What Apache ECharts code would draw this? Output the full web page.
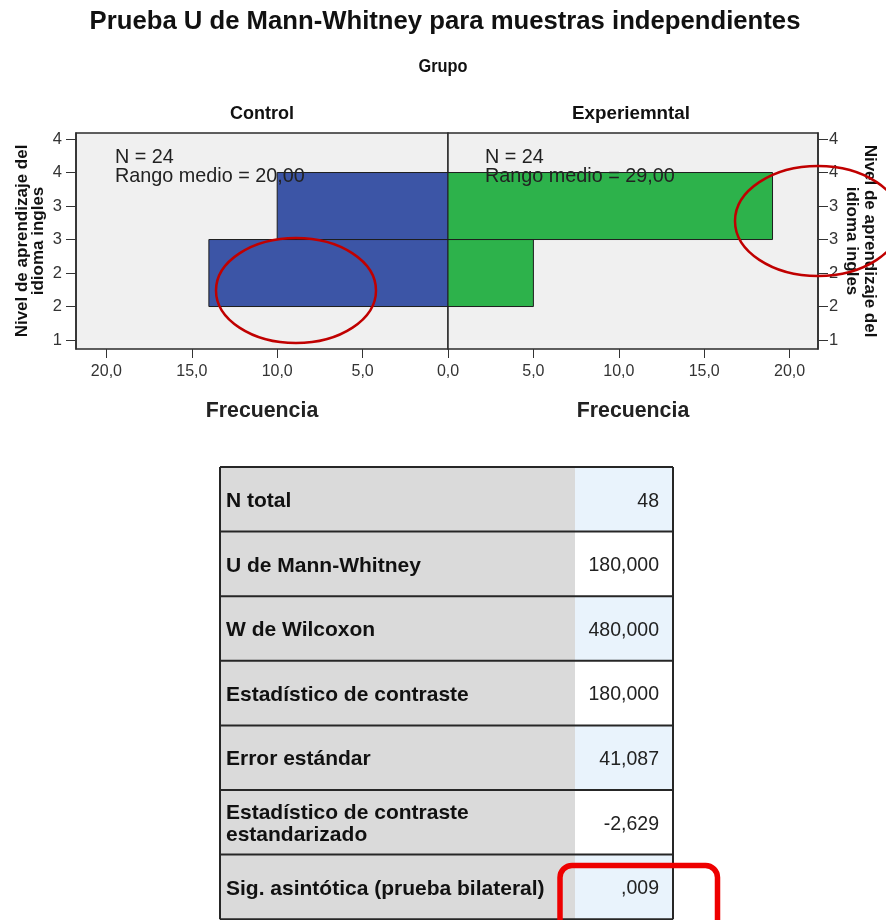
<!DOCTYPE html>
<html>
<head>
<meta charset="utf-8">
<script src="https://cdn.jsdelivr.net/npm/echarts@6/dist/echarts.min.js"></script>
<style>
html,body{margin:0;padding:0;background:#fff;}
#chart{width:886px;height:920px;}
</style>
</head>
<body>
<div id="chart"></div>
<script>
// ---- data ----
const chartTitle = 'Prueba U de Mann-Whitney para muestras independientes';
const groupTitle = 'Grupo';
const groupNames = ['Control', 'Experiemntal'];
const nivelBins = [2, 3];               // histogram bin centres (nivel)
const binWidth = 1;
const controlFreq = [14, 10];
const experimentalFreq = [5, 19];
const groupN = ['24', '24'];
const meanRanks = ['20,00', '29,00'];
const yTickValues = [1, 1.5, 2, 2.5, 3, 3.5, 4];
const yTickLabels = ['1', '2', '2', '3', '3', '4', '4'];
const xTickValues = [0, 5, 10, 15, 20];
const xAxisName = 'Frecuencia';
const yAxisName = 'Nivel de aprendizaje del\nidioma ingles';
const statLabels = ['N total', 'U de Mann-Whitney', 'W de Wilcoxon', 'Estadístico de contraste',
  'Error estándar', 'Estadístico de contraste\nestandarizado', 'Sig. asintótica (prueba bilateral)'];
const statValues = ['48', '180,000', '480,000', '180,000', '41,087', '-2,629', ',009'];

// ---- layout / style ----
const FONT = '"Liberation Sans", Arial, sans-serif';
const plotTop = 133, plotH = 216, midX = 448, leftX = 76, rightX = 818;
const pxPerUnit = 17.08;
const colors = ['#3c55a6', '#2db24b'];

function fmtX(v) { return v.toFixed(1).replace('.', ','); }
function fmtY(v) {
  const i = yTickValues.findIndex(t => Math.abs(t - v) < 1e-6);
  return i >= 0 ? yTickLabels[i] : '';
}

function xAxisCfg(idx, max, labelVals) {
  return {
    gridIndex: idx, type: 'value', inverse: idx === 0, min: 0, max: max,
    axisLine: { show: false, onZero: false }, splitLine: { show: false },
    axisTick: { show: true, customValues: xTickValues, length: 9, lineStyle: { color: '#333', width: 1 } },
    axisLabel: { customValues: labelVals, formatter: fmtX, margin: 15, fontSize: 16, color: '#333', fontFamily: FONT },
    name: xAxisName, nameLocation: 'middle', nameGap: 52,
    nameTextStyle: { fontWeight: 'bold', fontSize: 21.3, color: '#222', fontFamily: FONT }
  };
}
function yAxisCfg(idx, pos, margin) {
  return {
    gridIndex: idx, type: 'value', position: pos, min: 0.866, max: 4.09,
    axisLine: { show: true, onZero: false, lineStyle: { color: '#2b2b2b', width: 1.5 } }, splitLine: { show: false },
    axisTick: { show: true, customValues: yTickValues, length: 10, lineStyle: { color: '#333', width: 1 } },
    axisLabel: { customValues: yTickValues, formatter: fmtY, margin: margin, fontSize: 16.5, color: '#333', fontFamily: FONT }
  };
}
function histSeries(idx, freqs, color) {
  return {
    type: 'custom', coordinateSystem: 'cartesian2d', xAxisIndex: idx, yAxisIndex: idx,
    data: nivelBins.map((n, i) => [n, freqs[i]]),
    encode: { x: 1, y: 0 },
    renderItem: function (params, api) {
      const y = api.value(0), f = api.value(1);
      const a = api.coord([0, y - binWidth / 2]);
      const b = api.coord([f, y + binWidth / 2]);
      return {
        type: 'rect',
        shape: { x: Math.min(a[0], b[0]), y: Math.min(a[1], b[1]), width: Math.abs(b[0] - a[0]), height: Math.abs(b[1] - a[1]) },
        style: { fill: color, stroke: '#1e1e1e', lineWidth: 1 }
      };
    }
  };
}

// table graphics
const tblLeft = 220, tblRight = 673, tblTop = 467, rowH = 64.6, valColX = 575;
const tableEls = [];
statLabels.forEach((lab, i) => {
  const y = tblTop + i * rowH;
  tableEls.push({ type: 'rect', shape: { x: tblLeft, y: y, width: valColX - tblLeft, height: rowH }, style: { fill: '#dadada' } });
  tableEls.push({ type: 'rect', shape: { x: valColX, y: y, width: tblRight - valColX, height: rowH }, style: { fill: i % 2 === 0 ? '#e9f3fc' : '#ffffff' } });
  tableEls.push({ type: 'text', x: 226, y: y + rowH / 2 + 2, style: { text: lab, font: 'bold 21px ' + FONT, fill: '#111', textAlign: 'left', textVerticalAlign: 'middle', lineHeight: 22 } });
  tableEls.push({ type: 'text', x: 659, y: y + rowH / 2 + 2, style: { text: statValues[i], font: '19.5px ' + FONT, fill: '#222', textAlign: 'right', textVerticalAlign: 'middle' } });
});
for (let i = 0; i <= statLabels.length; i++) {
  const y = tblTop + i * rowH;
  tableEls.push({ type: 'line', shape: { x1: tblLeft, y1: y, x2: tblRight, y2: y }, style: { stroke: '#262626', lineWidth: 2 } });
}
tableEls.push({ type: 'line', shape: { x1: tblLeft, y1: tblTop, x2: tblLeft, y2: tblTop + 7 * rowH }, style: { stroke: '#262626', lineWidth: 2 } });
tableEls.push({ type: 'line', shape: { x1: tblRight, y1: tblTop, x2: tblRight, y2: tblTop + 7 * rowH }, style: { stroke: '#262626', lineWidth: 2 } });

const option = {
  backgroundColor: '#ffffff',
  animation: false,
  grid: [
    { left: leftX, top: plotTop, width: midX - leftX, height: plotH, show: true, backgroundColor: '#f0f0f0', borderColor: '#2b2b2b', borderWidth: 1.5 },
    { left: midX, top: plotTop, width: rightX - midX, height: plotH, show: true, backgroundColor: '#f0f0f0', borderColor: '#2b2b2b', borderWidth: 1.5 }
  ],
  xAxis: [
    xAxisCfg(0, (midX - leftX) / pxPerUnit, xTickValues),
    xAxisCfg(1, (rightX - midX) / pxPerUnit, xTickValues.slice(1))
  ],
  yAxis: [yAxisCfg(0, 'left', 14), yAxisCfg(1, 'right', 11)],
  series: [
    histSeries(0, controlFreq, colors[0]),
    histSeries(1, experimentalFreq, colors[1])
  ],
  graphic: [
    { type: 'text', x: 445, y: 22, style: { text: chartTitle, font: 'bold 25.7px ' + FONT, fill: '#111', textAlign: 'center', textVerticalAlign: 'middle' } },
    { type: 'text', x: 443, y: 67, scaleX: 0.86, style: { text: groupTitle, font: 'bold 19px ' + FONT, fill: '#111', textAlign: 'center', textVerticalAlign: 'middle' } },
    { type: 'text', x: (leftX + midX) / 2, y: 114, style: { text: groupNames[0], font: 'bold 18px ' + FONT, fill: '#111', textAlign: 'center', textVerticalAlign: 'middle' } },
    { type: 'text', x: (midX + rightX) / 2 - 2, y: 114, style: { text: groupNames[1], font: 'bold 18.8px ' + FONT, fill: '#111', textAlign: 'center', textVerticalAlign: 'middle' } },
    { type: 'text', x: 115, y: 148, z: 100, style: { text: 'N = ' + groupN[0] + '\nRango medio = ' + meanRanks[0], font: '19.8px ' + FONT, fill: '#222', textAlign: 'left', textVerticalAlign: 'top', lineHeight: 19 } },
    { type: 'text', x: 485, y: 148, z: 100, style: { text: 'N = ' + groupN[1] + '\nRango medio = ' + meanRanks[1], font: '19.8px ' + FONT, fill: '#222', textAlign: 'left', textVerticalAlign: 'top', lineHeight: 19 } },
    { type: 'text', x: 30, y: 241, rotation: Math.PI / 2, style: { text: yAxisName, font: 'bold 17px ' + FONT, fill: '#111', textAlign: 'center', textVerticalAlign: 'middle', lineHeight: 16 } },
    { type: 'text', x: 861, y: 241, rotation: -Math.PI / 2, style: { text: yAxisName, font: 'bold 17px ' + FONT, fill: '#111', textAlign: 'center', textVerticalAlign: 'middle', lineHeight: 18 } },
    { type: 'ellipse', z: 200, shape: { cx: 296, cy: 290.5, rx: 80, ry: 52.5 }, style: { fill: 'none', stroke: '#c00000', lineWidth: 2.5 } },
    { type: 'ellipse', z: 200, shape: { cx: 818, cy: 221, rx: 83, ry: 55 }, style: { fill: 'none', stroke: '#c00000', lineWidth: 2.5 } },
    { type: 'group', children: tableEls },
    { type: 'rect', z: 200, shape: { x: 560, y: 865.5, width: 157.5, height: 80, r: 12 }, style: { fill: 'none', stroke: '#ee0000', lineWidth: 5.5 } }
  ]
};

const chart = echarts.init(document.getElementById('chart'), null, { renderer: 'canvas' });
chart.setOption(option);
</script>
</body>
</html>
